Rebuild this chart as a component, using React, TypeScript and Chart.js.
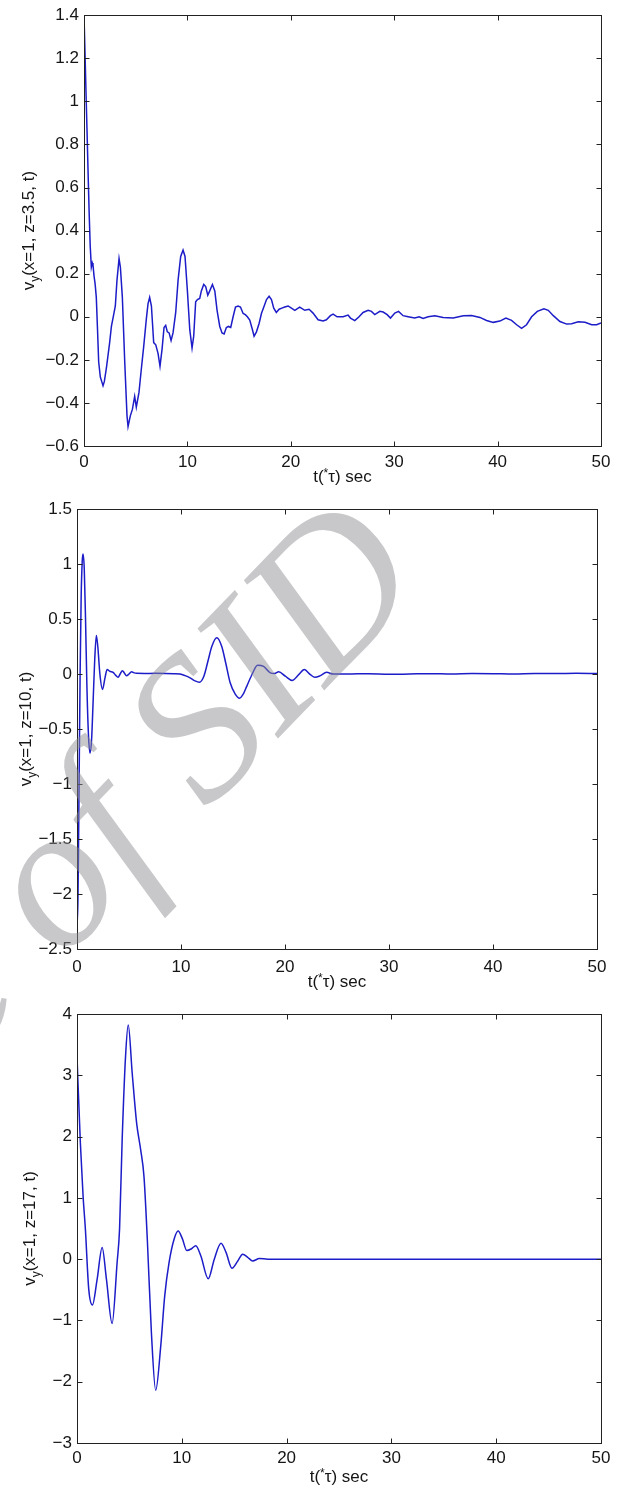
import React, { useEffect, useRef } from "react";
import { Chart, registerables } from "chart.js";

Chart.register(...registerables);

// ---------------- data ----------------
const xTickValues = [0, 10, 20, 30, 40, 50];
const xTitleText = "t(*τ) sec";

const t1 = [
  0, 0.1, 0.2, 0.3, 0.4, 0.5, 0.6, 0.71, 0.8, 0.87,
  0.97, 1.08, 1.19, 1.3, 1.42, 1.58, 1.71, 1.84, 1.97, 2.16,
  2.32, 2.48, 2.65, 2.87, 3.03, 3.19, 3.39, 3.52, 3.71, 3.94,
  4.16, 4.26, 4.48, 4.68, 4.9, 5.06, 5.32, 5.55, 5.77, 6.03,
  6.19, 6.35, 6.52, 6.74, 6.94, 7.16, 7.35, 7.55, 7.74, 7.9,
  8.06, 8.23, 8.42, 8.61, 8.87, 9.1, 9.35, 9.58, 9.77, 10.0,
  10.23, 10.45, 10.61, 10.8, 10.97, 11.19, 11.35, 11.58, 11.77, 11.97,
  12.16, 12.42, 12.65, 12.87, 13.13, 13.35, 13.55, 13.77, 13.97, 14.19,
  14.42, 14.65, 14.9, 15.13, 15.39, 15.6, 15.8, 16.03, 16.29, 16.45,
  16.68, 16.94, 17.16, 17.39, 17.65, 17.9, 18.13, 18.35, 18.6, 18.87,
  19.13, 19.42, 19.74, 20.06, 20.39, 20.86, 21.35, 21.77, 22.15, 22.64,
  23.12, 23.44, 23.83, 24.09, 24.48, 25.06, 25.54, 25.77, 26.19, 26.6,
  26.99, 27.48, 27.8, 28.12, 28.61, 28.93, 29.32, 29.64, 30.06, 30.42,
  30.86, 31.35, 31.99, 32.41, 32.8, 33.28, 33.93, 34.73, 35.71, 36.68,
  37.48, 38.29, 38.93, 39.58, 40.22, 40.8, 41.35, 41.84, 42.32, 42.8,
  43.29, 43.84, 44.48, 44.9, 45.39, 46.03, 46.68, 47.16, 47.8, 48.45,
  49.1, 49.58, 50,
];
const v1 = [
  1.4, 1.22, 1.03, 0.85, 0.66, 0.48, 0.33, 0.23, 0.25, 0.24,
  0.19, 0.15, 0.09, -0.05, -0.21, -0.28, -0.3, -0.32, -0.3, -0.24,
  -0.18, -0.12, -0.045, 0.01, 0.05, 0.17, 0.27, 0.23, 0.09, -0.21,
  -0.46, -0.51, -0.46, -0.43, -0.37, -0.42, -0.35, -0.24, -0.14, -0.01,
  0.06, 0.09, 0.05, -0.12, -0.13, -0.17, -0.23, -0.15, -0.05, -0.04,
  -0.07, -0.075, -0.11, -0.075, 0.02, 0.17, 0.28, 0.31, 0.28, 0.12,
  -0.06, -0.145, -0.09, 0.07, 0.08, 0.085, 0.12, 0.15, 0.14, 0.1,
  0.12, 0.15, 0.12, 0.03, -0.045, -0.075, -0.08, -0.05, -0.045, -0.05,
  0.0, 0.045, 0.05, 0.045, 0.015, 0.01, 0.0, -0.015, -0.06, -0.09,
  -0.07, -0.03, 0.015, 0.045, 0.08, 0.095, 0.08, 0.04, 0.02, 0.035,
  0.04, 0.045, 0.05, 0.04, 0.03, 0.045, 0.03, 0.035, 0.017, -0.014,
  -0.02, -0.014, 0.005, 0.012, 0.0, 0.0, 0.008, -0.006, -0.018, 0.0,
  0.02, 0.03, 0.025, 0.01, 0.025, 0.022, 0.01, -0.006, 0.017, 0.025,
  0.005, 0.0, -0.006, 0.0, -0.008, 0.0, 0.005, -0.003, -0.006, 0.005,
  0.006, -0.003, -0.017, -0.026, -0.02, -0.006, -0.017, -0.037, -0.054, -0.037,
  0.0, 0.025, 0.037, 0.03, 0.005, -0.022, -0.034, -0.032, -0.023, -0.026,
  -0.037, -0.037, -0.029,
];

const t2 = [
  0, 0.1, 0.2, 0.3, 0.4, 0.5, 0.58, 0.7, 0.82, 0.95,
  1.1, 1.25, 1.4, 1.55, 1.7, 1.86, 2.0, 2.2, 2.45, 2.7,
  2.9, 3.15, 3.47, 3.7, 3.95, 4.15, 4.37, 4.55, 4.76, 5.0,
  5.24, 5.5, 5.72, 6.5, 7.5, 8.5, 9.3, 9.9, 10.4, 10.87,
  11.3, 11.77, 12.2, 12.6, 12.96, 13.44, 13.92, 14.3, 14.73, 15.2,
  15.63, 16.0, 16.33, 16.85, 17.36, 17.94, 18.59, 19.0, 19.39, 20.03,
  20.68, 21.32, 21.86, 22.44, 22.88, 23.4, 24.0, 24.64, 26, 28,
  30, 32, 34, 36, 38, 40, 42, 44, 46, 48,
  50,
];
const v2 = [
  -2.3, -2.0, -1.0, 0.0, 0.7, 1.02, 1.09, 0.95, 0.5, -0.1,
  -0.55, -0.72, -0.6, -0.25, 0.12, 0.35, 0.25, 0.0, -0.14, -0.03,
  0.04, 0.025, 0.015, -0.01, -0.03, 0.0, 0.03, 0.01, -0.015, 0.0,
  0.02, 0.01, 0.006, 0.005, 0.006, 0.005, 0.003, 0.0, -0.015, -0.035,
  -0.06, -0.075, -0.02, 0.12, 0.25, 0.33, 0.25, 0.1, -0.08, -0.18,
  -0.22, -0.18, -0.11, 0.0, 0.08, 0.07, 0.01, 0.005, 0.02, -0.02,
  -0.058, -0.006, 0.04, -0.006, -0.03, -0.015, 0.015, 0.0, 0.0, 0.003,
  -0.003, 0.0, 0.003, 0.0, 0.004, 0.003, 0.0, 0.005, 0.004, 0.006,
  0.004,
];

const t3 = [
  0, 0.32, 0.58, 0.8, 1.12, 1.47, 1.92, 2.4, 2.81, 3.35,
  3.83, 4.06, 4.31, 4.63, 4.89, 5.27, 5.69, 6.07, 6.39, 6.71,
  7.1, 7.51, 7.99, 8.37, 8.79, 9.27, 9.65, 10.06, 10.48, 10.93,
  11.34, 11.82, 12.52, 13.1, 13.74, 14.22, 14.79, 15.34, 15.81, 16.29,
  16.77, 17.4, 18.2, 20, 25, 30, 35, 40, 45, 50,
];
const v3 = [
  3.3, 1.9, 1.03, 0.49, -0.49, -0.75, -0.33, 0.19, -0.33, -1.05,
  -0.05, 0.49, 1.95, 3.3, 3.82, 3.03, 2.22, 1.79, 1.35, 0.32,
  -1.2, -2.14, -1.42, -0.6, -0.05, 0.33, 0.46, 0.33, 0.14, 0.17,
  0.22, 0.05, -0.32, 0.0, 0.26, 0.11, -0.15, -0.03, 0.08, 0.03,
  -0.03, 0.01, 0.0, 0.0, 0.0, 0.0, 0.0, 0.0, 0.0, 0.0,
];

const yRange1 = [-0.6, 1.4, 0.2];
const yRange2 = [-2.5, 1.5, 0.5];
const yRange3 = [-3, 4, 1];

const yLabel1 = "(x=1, z=3.5, t)";
const yLabel2 = "(x=1, z=10, t)";
const yLabel3 = "(x=1, z=17, t)";

const watermarkText = "Archive of SID";

// ---------------- styles ----------------
const PAGE_W = 618;
const PAGE_H = 1490;
const FONT_FAMILY = '"Liberation Sans", Arial, Helvetica, sans-serif';
const FONT_SIZE = 17;
const TEXT_COLOR = "#151515";
const FRAME_COLOR = "#222222";
const LINE_COLOR = "#1c1cc8";

type PlotCfg = {
  top: number;
  height: number;
  L: number;
  T: number;
  R: number;
  B: number;
  yLabelX: number;
  xTitleY: number;
  xTickPad: number;
  t: number[];
  v: number[];
  yr: number[];
  yLabel: string;
  smooth: boolean;
};

const plots: PlotCfg[] = [
  { top: 0, height: 490, L: 84, T: 14, R: 601, B: 446, yLabelX: 34, xTitleY: 482, xTickPad: 6, t: t1, v: v1, yr: yRange1, yLabel: yLabel1, smooth: false },
  { top: 490, height: 505, L: 77, T: 19, R: 597, B: 459, yLabelX: 31, xTitleY: 497, xTickPad: 8, t: t2, v: v2, yr: yRange2, yLabel: yLabel2, smooth: true },
  { top: 990, height: 500, L: 77, T: 24, R: 601, B: 453, yLabelX: 35, xTitleY: 492, xTickPad: 5, t: t3, v: v3, yr: yRange3, yLabel: yLabel3, smooth: true },
];

const fmt = (v: number) => {
  const r = Math.round(v * 10) / 10;
  return String(r === 0 ? 0 : r).replace("-", "\u2212");
};

type Part = { text: string; size: number; dy: number };

function drawParts(ctx: CanvasRenderingContext2D, parts: Part[], cx: number, baseY: number) {
  let total = 0;
  const widths = parts.map((p) => {
    ctx.font = `${p.size}px ${FONT_FAMILY}`;
    const w = ctx.measureText(p.text).width;
    total += w;
    return w;
  });
  let x = cx - total / 2;
  ctx.textBaseline = "alphabetic";
  ctx.textAlign = "left";
  parts.forEach((p, i) => {
    ctx.font = `${p.size}px ${FONT_FAMILY}`;
    ctx.fillText(p.text, x, baseY + p.dy);
    x += widths[i];
  });
}

function Plot({ cfg }: { cfg: PlotCfg }) {
  const ref = useRef<HTMLCanvasElement | null>(null);
  useEffect(() => {
    if (!ref.current) return;
    const framePlugin = {
      id: "matlabFrame",
      afterDraw(chart: any) {
        const { ctx, chartArea: a } = chart;
        const xs = chart.scales.x;
        const ys = chart.scales.y;
        ctx.save();
        const L = Math.round(a.left) + 0.5;
        const R = Math.round(a.right) + 0.5;
        const T = Math.round(a.top) + 0.5;
        const B = Math.round(a.bottom) + 0.5;
        ctx.strokeStyle = FRAME_COLOR;
        ctx.lineWidth = 1;
        ctx.strokeRect(L, T, R - L, B - T);
        const tl = 5;
        ctx.beginPath();
        xs.ticks.forEach((tk: any) => {
          const px = Math.round(xs.getPixelForValue(tk.value)) + 0.5;
          ctx.moveTo(px, B);
          ctx.lineTo(px, B - tl);
          ctx.moveTo(px, T);
          ctx.lineTo(px, T + tl);
        });
        ys.ticks.forEach((tk: any) => {
          const py = Math.round(ys.getPixelForValue(tk.value)) + 0.5;
          ctx.moveTo(L, py);
          ctx.lineTo(L + tl, py);
          ctx.moveTo(R, py);
          ctx.lineTo(R - tl, py);
        });
        ctx.stroke();

        ctx.fillStyle = TEXT_COLOR;
        drawParts(
          ctx,
          [
            { text: xTitleText.slice(0, 2), size: FONT_SIZE, dy: 0 },
            { text: xTitleText.slice(2, 3), size: 12, dy: -5 },
            { text: xTitleText.slice(3), size: FONT_SIZE, dy: 0 },
          ],
          (a.left + a.right) / 2,
          cfg.xTitleY
        );
        ctx.translate(cfg.yLabelX, (a.top + a.bottom) / 2);
        ctx.rotate(-Math.PI / 2);
        drawParts(
          ctx,
          [
            { text: "v", size: FONT_SIZE, dy: 0 },
            { text: "y", size: 12, dy: 5 },
            { text: cfg.yLabel, size: FONT_SIZE, dy: 0 },
          ],
          0,
          0
        );
        ctx.restore();
      },
    };

    const font = { family: FONT_FAMILY, size: FONT_SIZE };
    const chart = new Chart(ref.current, {
      type: "line",
      data: {
        datasets: [
          {
            data: cfg.t.map((x, i) => ({ x, y: cfg.v[i] })),
            borderColor: LINE_COLOR,
            borderWidth: 1.5,
            pointRadius: 0,
            fill: false,
            tension: cfg.smooth ? 0.4 : 0,
            cubicInterpolationMode: cfg.smooth ? "monotone" : "default",
          } as any,
        ],
      },
      options: {
        animation: false,
        responsive: true,
        maintainAspectRatio: false,
        devicePixelRatio: 1,
        events: [],
        layout: { padding: { left: 0, top: cfg.T, right: PAGE_W - cfg.R, bottom: 0 } },
        plugins: { legend: { display: false }, tooltip: { enabled: false }, title: { display: false } },
        scales: {
          x: {
            type: "linear",
            min: xTickValues[0],
            max: xTickValues[xTickValues.length - 1],
            afterBuildTicks: (s: any) => {
              s.ticks = xTickValues.map((value) => ({ value }));
            },
            ticks: {
              padding: cfg.xTickPad,
              maxRotation: 0,
              autoSkip: false,
              font,
              color: TEXT_COLOR,
              callback: (v: any) => String(v),
            },
            grid: { display: false, drawTicks: false },
            border: { display: false },
            afterFit: (s: any) => {
              s.height = cfg.height - cfg.B;
            },
          },
          y: {
            type: "linear",
            min: cfg.yr[0],
            max: cfg.yr[1],
            ticks: {
              stepSize: cfg.yr[2],
              padding: 5,
              autoSkip: false,
              font,
              color: TEXT_COLOR,
              callback: (v: any) => fmt(Number(v)),
            },
            grid: { display: false, drawTicks: false },
            border: { display: false },
            afterFit: (s: any) => {
              s.width = cfg.L;
            },
          },
        },
      },
      plugins: [framePlugin],
    });
    return () => chart.destroy();
  }, [cfg]);

  return (
    <div style={{ position: "absolute", left: 0, top: cfg.top, width: PAGE_W, height: cfg.height }}>
      <canvas ref={ref} />
    </div>
  );
}

function Watermark() {
  const ref = useRef<HTMLCanvasElement | null>(null);
  useEffect(() => {
    const c = ref.current;
    if (!c) return;
    const ctx = c.getContext("2d");
    if (!ctx) return;
    ctx.clearRect(0, 0, PAGE_W, PAGE_H);
    const F = 205;
    ctx.font = `italic ${F}px "Liberation Serif", "DejaVu Serif", serif`;
    const pre = ctx.measureText("Archive ").width;
    const ow = ctx.measureText("o").width;
    ctx.save();
    ctx.translate(64, 895);
    ctx.rotate((-46 * Math.PI) / 180);
    ctx.fillStyle = "rgba(140,141,146,0.48)";
    ctx.textBaseline = "alphabetic";
    ctx.fillText(watermarkText, -(pre + ow / 2), 0.22 * F);
    ctx.restore();
  }, []);
  return (
    <canvas
      ref={ref}
      width={PAGE_W}
      height={PAGE_H}
      style={{ position: "absolute", left: 0, top: 0, width: PAGE_W, height: PAGE_H, pointerEvents: "none" }}
    />
  );
}

export default function App() {
  return (
    <div style={{ position: "absolute", left: 0, top: 0, width: PAGE_W, height: PAGE_H, background: "#fff", overflow: "hidden" }}>
      {plots.map((p, i) => (
        <Plot key={i} cfg={p} />
      ))}
      <Watermark />
    </div>
  );
}
